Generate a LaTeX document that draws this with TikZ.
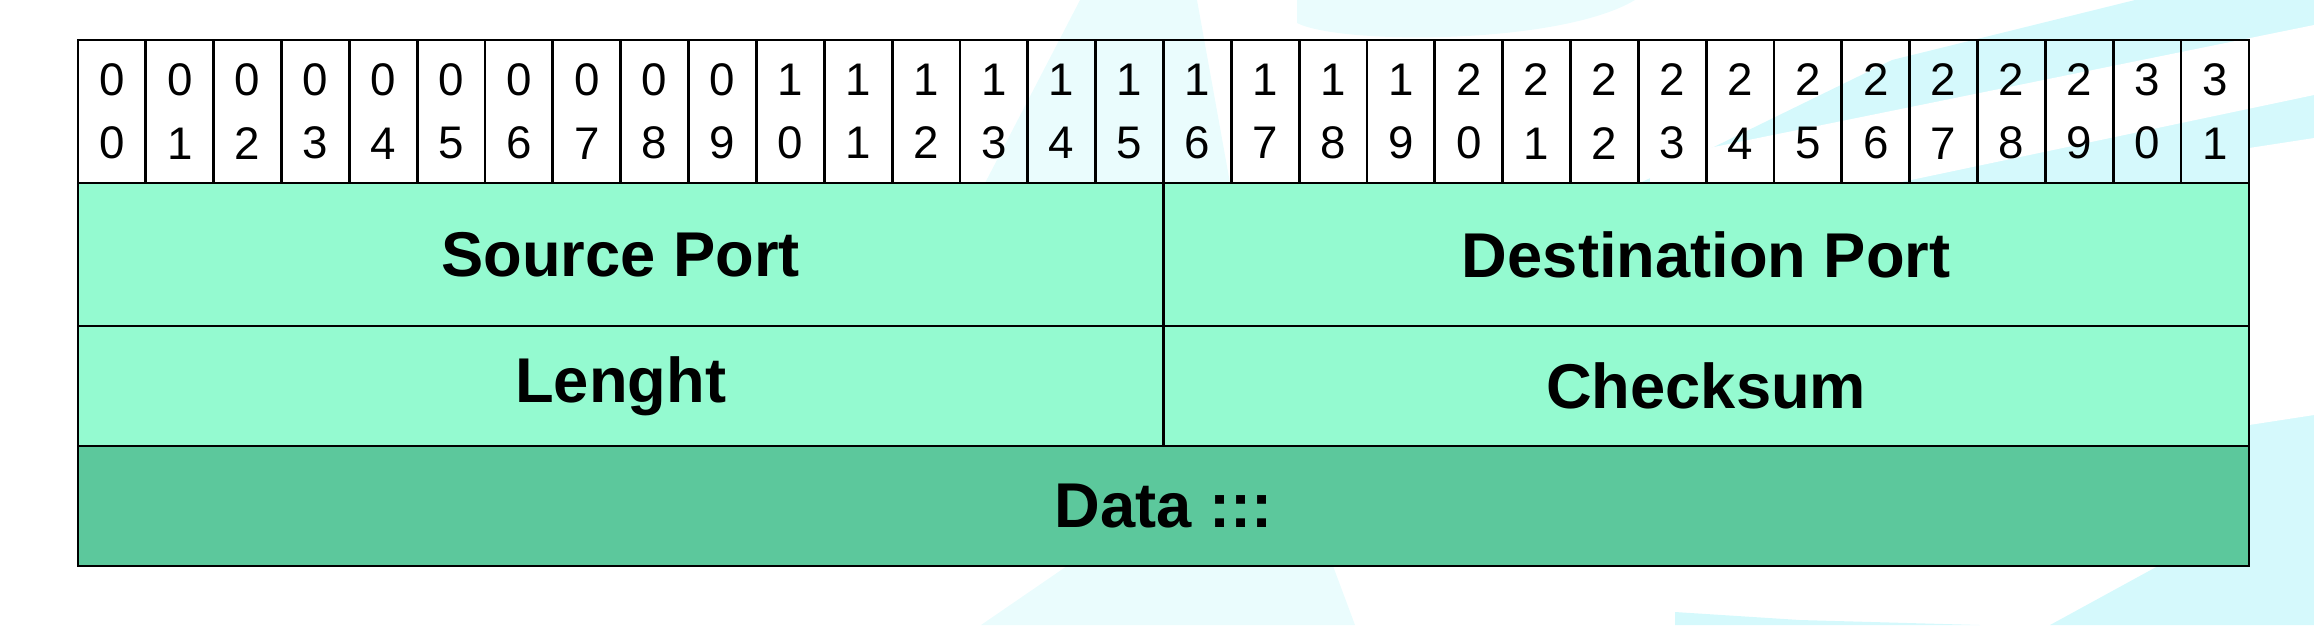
\documentclass[tikz,border=0pt]{standalone}
\usepackage{fontspec}
\setmainfont{Liberation Sans}
\usetikzlibrary{positioning}
\definecolor{portgreen}{RGB}{148,250,208}
\definecolor{datagreen}{RGB}{92,200,156}
\definecolor{paleaqua}{RGB}{234,252,253}
\definecolor{lightaqua}{RGB}{213,249,252}
\newcommand{\bitfont}{\fontsize{13}{15}\selectfont}
\tikzset{
    bitcell/.style={
            draw, line width=0.8pt, inner sep=0pt, outer sep=0pt,
            minimum width=6.784mm, minimum height=14.3mm,
            align=center, font=\bitfont
        },
    halffield/.style={
            draw, line width=0.8pt, fill=portgreen, inner sep=0pt, outer sep=0pt,
            minimum width=108.55mm, font=\bfseries\fontsize{18}{21}\selectfont
        },
    fullfield/.style={
            halffield, fill=datagreen, minimum width=217.1mm
        },
}

\begin{document}
\begin{tikzpicture}[x=0.1mm, y=-0.1mm]
        \useasboundingbox (0, 0) rectangle (2314, 625);
        %draw pale background shapes
        \fill[paleaqua] (1297, 0) -- (1297, 23) .. controls (1340, 45) and (1560, 45) .. (1635, 0) -- cycle;
        \fill[paleaqua] (1080, 0) -- (1197, 0) -- (1230, 183) -- (985, 183) -- cycle;
        \fill[paleaqua] (1067, 566) -- (1333, 566) -- (1355, 625) -- (981, 625) -- cycle;
        \fill[lightaqua] (1892, 60) -- (2135, 0) -- (2314, 0) -- (2314, 625) -- (2050, 625) -- (2158, 566) -- (2249, 566) -- (2249, 183) -- (1640, 183) -- cycle;
        \fill[white] (1650, 160) -- (2314, 25) -- (2314, 95) -- (1650, 235) -- cycle;
        \fill[white] (2249, 148) -- (2314, 138) -- (2314, 415) -- (2249, 425) -- cycle;
        \fill[lightaqua] (1675, 612) -- (1800, 620) -- (1980, 625) -- (1675, 625) -- cycle;
        %draw bit numbers 00 to 31
        \foreach \i in {0,...,31}{
                \pgfmathtruncatemacro\tens{\i/10}
                \pgfmathtruncatemacro\ones{mod(\i,10)}
                \node[bitcell, anchor=north west] (b\i) at ({78+67.84*\i}, 40) {\tens\\[3pt]\ones};
            }
        %draw header fields
        \node[halffield, minimum height=14.3mm, anchor=north west] (src) at (b0.south west) {Source Port};
        \node[halffield, minimum height=14.3mm, right=0pt of src] (dst) {Destination Port};
        \node[halffield, minimum height=12mm, below=0pt of src] (len) {Lenght};
        \node[halffield, minimum height=12mm, below=0pt of dst] (chk) {Checksum};
        %draw data field
        \node[fullfield, minimum height=12mm, below=0pt of len.south east] (data) {Data :::};
    \end{tikzpicture}
\end{document}
